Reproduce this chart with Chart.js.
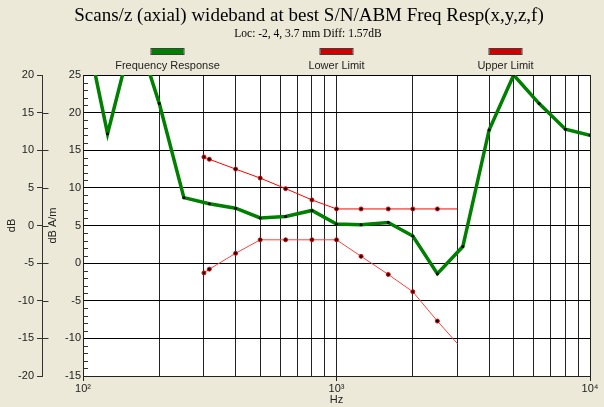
<!DOCTYPE html>
<html>
<head>
<meta charset="utf-8">
<script src="https://cdn.jsdelivr.net/npm/chart.js@4"></script>
<style>
  html, body { margin: 0; padding: 0; background: #ece9d8; }
  #wrap { width: 604px; height: 407px; }
</style>
</head>
<body>
<div id="wrap"><canvas id="grafico" width="604" height="407"></canvas></div>
<script>
const titulo = "Scans/z (axial) wideband at best S/N/ABM Freq Resp(x,y,z,f)";
const subtitulo = "Loc: -2, 4, 3.7 mm Diff: 1.57dB";

// 1/3 octave bands, Hz
const frecuencias = [100, 125, 160, 200, 250, 315, 400, 500, 630, 800, 1000,
    1250, 1600, 2000, 2500, 3150, 4000, 5000, 6300, 8000, 10000];
// dB A/m
const respuesta = [32.9, 17.2, 31.4, 21.2, 8.7, 7.9, 7.3, 6.0, 6.2, 7.0, 5.2,
    5.1, 5.4, 3.6, -1.4, 2.2, 17.7, 25.0, 21.2, 17.8, 17.0];

const frecLimites = [300, 315, 400, 500, 630, 800, 1000, 1250, 1600, 2000, 2500, 3000];
const limiteInferior = [-1.3, -0.8, 1.3, 3.1, 3.1, 3.1, 3.1, 0.9, -1.5, -3.8, -7.7, -10.7];
const limiteSuperior = [14.1, 13.8, 12.5, 11.3, 9.9, 8.4, 7.2, 7.2, 7.2, 7.2, 7.2, 7.2];

const ticksX = [100, 200, 300, 400, 500, 600, 700, 800, 900, 1000,
    2000, 3000, 4000, 5000, 6000, 7000, 8000, 9000, 10000];
const etiquetasX = { 100: "10²", 1000: "10³", 10000: "10⁴" };

const fuente = "'Liberation Sans', Arial, sans-serif";
const fuenteSerif = "'Liberation Serif', 'Times New Roman', serif";

const puntos = (xs, ys) => xs.map((x, i) => ({ x: x, y: ys[i] }));

const fondo = {
    id: "fondo",
    beforeDraw(chart) {
        const { ctx, chartArea: a } = chart;
        ctx.save();
        ctx.fillStyle = "#ece9d8";
        ctx.fillRect(0, 0, chart.width, chart.height);
        ctx.fillStyle = "#ffffff";
        ctx.fillRect(a.left, a.top, a.right - a.left, a.bottom - a.top);
        ctx.restore();
    },
    beforeDatasetsDraw(chart) {
        // minor ticks inside the plot + outer axis ticks
        const { ctx, chartArea: a } = chart;
        const y = chart.scales.y;
        const y2 = chart.scales.y2;
        ctx.save();
        ctx.strokeStyle = "#333";
        ctx.lineWidth = 1;
        ctx.beginPath();
        for (let v = -15; v <= 25; v++) {
            if (v % 5 === 0) continue;
            const py = Math.round(y.getPixelForValue(v)) + 0.5;
            ctx.moveTo(a.left, py);
            ctx.lineTo(a.left + 5, py);
        }
        const bx = Math.round(y2.right) + 0.5;
        for (let v = -15; v <= 15; v += 5) {
            const py = Math.round(y2.getPixelForValue(v)) + 0.5;
            ctx.moveTo(bx, py);
            ctx.lineTo(bx + 6, py);
        }
        ctx.stroke();
        ctx.restore();
    },
    afterDraw(chart) {
        const { ctx, chartArea: a } = chart;
        ctx.save();
        ctx.textAlign = "center";
        ctx.textBaseline = "middle";
        ctx.fillStyle = "#000";
        ctx.font = "19px " + fuenteSerif;
        ctx.fillText(titulo, 309, 16);
        ctx.font = "11.5px " + fuenteSerif;
        ctx.fillText(subtitulo, 308, 34);

        // legend: bar above the label, three equal columns
        const col = (a.right - a.left) / 3;
        chart.data.datasets.forEach((ds, i) => {
            const cx = a.left + col * (i + 0.5);
            ctx.fillStyle = ds.legendColor;
            ctx.fillRect(cx - 16, 49, 32, 5);
            ctx.strokeStyle = "#404040";
            ctx.lineWidth = 1;
            ctx.strokeRect(cx - 16.5, 48.5, 33, 6);
            ctx.fillStyle = "#222";
            ctx.font = "11px " + fuente;
            ctx.fillText(ds.label, cx, 66);
        });
        ctx.restore();
    }
};

new Chart(document.getElementById("grafico"), {
    type: "line",
    data: {
        datasets: [{
            label: "Frequency Response",
            data: puntos(frecuencias, respuesta),
            borderColor: "#008000",
            legendColor: "#008000",
            borderWidth: 3.5,
            pointRadius: 1.5,
            pointBackgroundColor: "#000",
            pointBorderWidth: 0,
            yAxisID: "y"
        }, {
            label: "Lower Limit",
            data: puntos(frecLimites, limiteInferior),
            borderColor: "#ff4040",
            legendColor: "#d00000",
            borderWidth: 1,
            pointRadius: frecLimites.map(f => f === 3000 ? 0 : 2),
            pointBackgroundColor: "#000",
            pointBorderColor: "#ff0000",
            pointBorderWidth: 1,
            yAxisID: "y"
        }, {
            label: "Upper Limit",
            data: puntos(frecLimites, limiteSuperior),
            borderColor: "#ff0000",
            legendColor: "#d00000",
            borderWidth: 1,
            pointRadius: frecLimites.map(f => f === 3000 ? 0 : 2),
            pointBackgroundColor: "#000",
            pointBorderColor: "#ff0000",
            pointBorderWidth: 1,
            yAxisID: "y"
        }]
    },
    options: {
        responsive: false,
        devicePixelRatio: 1,
        animation: false,
        layout: { padding: { top: 75, right: 14, left: 0, bottom: 0 } },
        plugins: {
            legend: { display: false },
            title: { display: false },
            tooltip: { enabled: false }
        },
        elements: { line: { tension: 0 } },
        scales: {
            x: {
                type: "logarithmic",
                min: 100,
                max: 10000,
                afterBuildTicks: s => { s.ticks = ticksX.map(v => ({ value: v })); },
                afterFit: s => { s.height = 31; },
                ticks: {
                    autoSkip: false,
                    maxRotation: 0,
                    padding: 1,
                    color: "#222",
                    font: { size: 11, family: fuente },
                    callback: v => etiquetasX[v] || ""
                },
                grid: {
                    color: "#222",
                    lineWidth: 1,
                    tickLength: 5,
                    tickColor: c => etiquetasX[c.tick.value] ? "#222" : "rgba(0,0,0,0)"
                },
                border: { color: "#222" },
                title: {
                    display: true,
                    text: "Hz",
                    color: "#222",
                    font: { size: 11, family: fuente },
                    padding: { top: 0, bottom: 0 }
                }
            },
            y: {
                position: "left",
                weight: 0,
                min: -15,
                max: 25,
                afterFit: s => { s.width = 41; },
                ticks: {
                    stepSize: 5,
                    padding: 2,
                    color: "#222",
                    font: { size: 11, family: fuente }
                },
                grid: { color: "#000", lineWidth: 1, drawTicks: false },
                border: { color: "#222" },
                title: {
                    display: true,
                    text: "dB A/m",
                    color: "#222",
                    font: { size: 11, family: fuente },
                    padding: { top: 4, bottom: 0 }
                }
            },
            y2: {
                position: "left",
                weight: 1,
                min: -20,
                max: 20,
                afterFit: s => { s.width = 42; },
                ticks: {
                    stepSize: 5,
                    padding: 3,
                    color: "#222",
                    font: { size: 11, family: fuente }
                },
                grid: { drawOnChartArea: false, tickLength: 5, color: "#333" },
                border: { color: "#333" },
                title: {
                    display: true,
                    text: "dB",
                    color: "#222",
                    font: { size: 11, family: fuente },
                    padding: { top: 5, bottom: 0 }
                }
            }
        }
    },
    plugins: [fondo]
});
</script>
</body>
</html>
